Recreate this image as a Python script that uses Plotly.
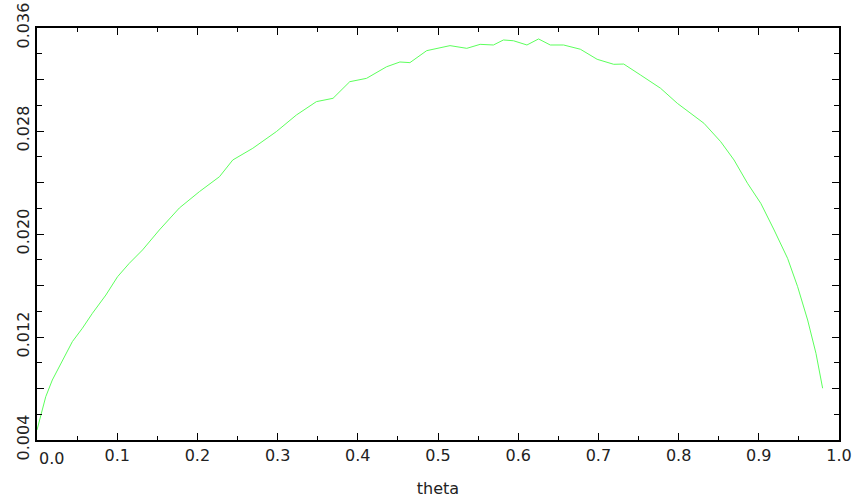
import plotly.graph_objects as go

theta = [0.0, 0.0046, 0.0109, 0.0191, 0.0316, 0.0441, 0.0566, 0.0691, 0.0859, 0.1004,
         0.115, 0.1316, 0.1525, 0.1775, 0.2025, 0.2275, 0.2441, 0.2691, 0.2984, 0.3234,
         0.3484, 0.3691, 0.39, 0.4109, 0.4359, 0.4525, 0.465, 0.4859, 0.515, 0.5359,
         0.5525, 0.5691, 0.5816, 0.5941, 0.6109, 0.6254, 0.64, 0.6566, 0.6775, 0.6984,
         0.7191, 0.7316, 0.7525, 0.7775, 0.7984, 0.815, 0.8316, 0.8525, 0.8691, 0.8859,
         0.9025, 0.9191, 0.9359, 0.9484, 0.9609, 0.9713, 0.9796]
value = [0.00478, 0.00594, 0.00736, 0.00866, 0.01021, 0.01164, 0.01268, 0.01384, 0.01526, 0.01668,
         0.01772, 0.01876, 0.02031, 0.02202, 0.02329, 0.02445, 0.02575, 0.02666, 0.02795, 0.02924,
         0.03028, 0.03054, 0.03183, 0.03209, 0.03299, 0.03336, 0.03331, 0.03424, 0.03463, 0.03442,
         0.03473, 0.03468, 0.03507, 0.03501, 0.03468, 0.03515, 0.03468, 0.03468, 0.03435, 0.03357,
         0.03318, 0.03320, 0.03235, 0.03132, 0.03015, 0.02938, 0.02860, 0.02717, 0.02575, 0.02394,
         0.02238, 0.02031, 0.01811, 0.01591, 0.01332, 0.01073, 0.00802]

x_tickvals = [0.1, 0.2, 0.3, 0.4, 0.5, 0.6, 0.7, 0.8, 0.9, 1.0]
x_ticktext = ["0.1", "0.2", "0.3", "0.4", "0.5", "0.6", "0.7", "0.8", "0.9", "1.0"]
x_first_label = "0.0"
y_tickvals = [0.004, 0.008, 0.012, 0.016, 0.020, 0.024, 0.028, 0.032, 0.036]
y_ticktext = ["0.004", "", "0.012", "", "0.020", "", "0.028", "", "0.036"]

font = dict(family="DejaVu Sans", size=16, color="#222222")

fig = go.Figure()
fig.add_trace(go.Scatter(x=theta, y=value, mode="lines",
                         line=dict(color="#5cff5c", width=1), showlegend=False))

axis_common = dict(showline=True, linecolor="black", linewidth=2, mirror="allticks",
                   ticks="inside", tickcolor="black", tickwidth=1, ticklen=7,
                   showgrid=False, zeroline=False, tickfont=font, automargin=False,
                   ticklabeloverflow="allow")

fig.update_xaxes(range=[0, 1], tickvals=[0.0] + x_tickvals, ticktext=[""] + x_ticktext,
                 minor=dict(dtick=0.05, ticklen=4, ticks="inside", tickcolor="black", showgrid=False),
                 title=dict(text="theta", font=font, standoff=19), **axis_common)
fig.update_yaxes(range=[0.004, 0.036], tickvals=y_tickvals, ticktext=y_ticktext, tickangle=-90,
                 minor=dict(dtick=0.002, ticklen=5, ticks="inside", tickcolor="black", showgrid=False),
                 **axis_common)

fig.add_annotation(x=0.0, y=0, xref="x", yref="paper", text=x_first_label, showarrow=False,
                   xanchor="left", yanchor="top", yshift=-7, font=font)

fig.update_layout(width=858, height=502, margin=dict(l=37, r=19, t=28, b=62),
                  plot_bgcolor="white", paper_bgcolor="white")

fig.write_html("out.html", config={"displayModeBar": False},
               post_script="document.body.style.margin='0';document.body.style.overflow='hidden';")
